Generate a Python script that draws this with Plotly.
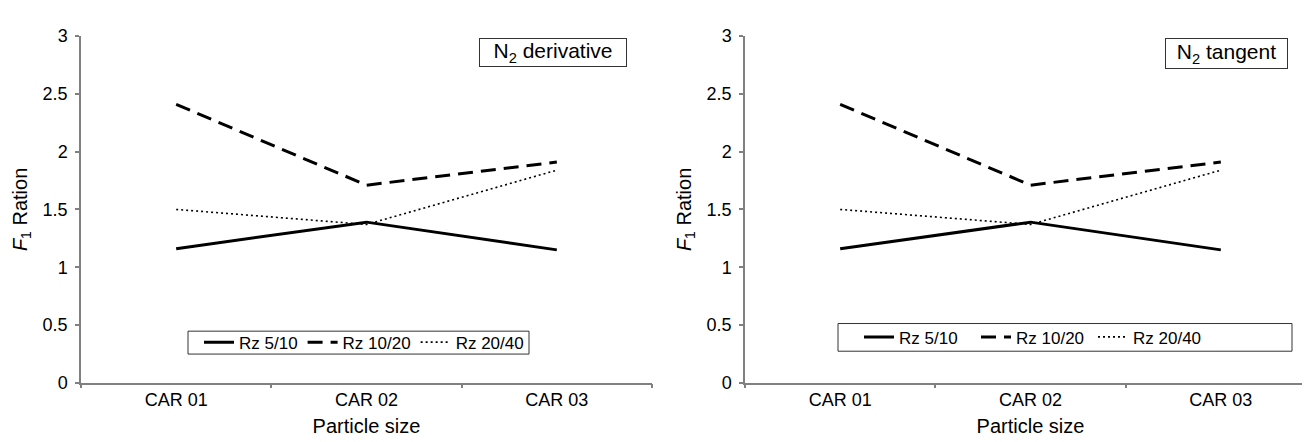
import plotly.graph_objects as go

categories = ["CAR 01", "CAR 02", "CAR 03"]
rz_5_10 = [1.16, 1.39, 1.15]
rz_10_20 = [2.41, 1.71, 1.91]
rz_20_40 = [1.50, 1.37, 1.84]
series_names = ["Rz 5/10", "Rz 10/20", "Rz 20/40"]
panel_labels = ["N<sub>2</sub> derivative", "N<sub>2</sub> tangent"]
y_ticks = [0, 0.5, 1, 1.5, 2, 2.5, 3]
y_tick_text = ["0", "0.5", "1", "1.5", "2", "2.5", "3"]

FONT = "Liberation Sans, Arial, sans-serif"
W, H = 1310, 442
AX = "#808080"

styles = [dict(width=3, dash="solid"), dict(width=3, dash="15px,8px"), dict(width=1.6, dash="2px,3px")]
data = [rz_5_10, rz_10_20, rz_20_40]


def fx(v):
    return v / W


def fy(v):
    return (H - v) / H


fig = go.Figure()
for p in range(2):
    xa = "x" if p == 0 else "x2"
    ya = "y" if p == 0 else "y2"
    leg = "legend" if p == 0 else "legend2"
    for name, vals, st in zip(series_names, data, styles):
        fig.add_trace(go.Scatter(
            x=categories, y=vals, mode="lines", name=name,
            line=dict(color="black", **st),
            xaxis=xa, yaxis=ya, legend=leg, showlegend=True,
        ))

ydom = [fy(382), fy(19)]
axis_common = dict(showgrid=False, zeroline=False, showline=True, linecolor=AX,
                   linewidth=1.5, ticks="outside", ticklen=4, tickcolor=AX, tickwidth=1.5,
                   tickfont=dict(family=FONT, size=18, color="black"))
xt = dict(text="Particle size", font=dict(family=FONT, size=20, color="black"), standoff=10)
yt = dict(text="<i>F</i><sub>1</sub> Ration", font=dict(family=FONT, size=20, color="black"), standoff=10)

leg_common = dict(orientation="h", xanchor="left", yanchor="middle", borderwidth=0,
                  bgcolor="rgba(0,0,0,0)", font=dict(family=FONT, size=17, color="black"),
                  itemwidth=30, tracegroupgap=0)

fig.update_layout(
    width=W, height=H, margin=dict(l=0, r=0, t=0, b=0),
    paper_bgcolor="white", plot_bgcolor="white",
    font=dict(family=FONT, color="black"),
    xaxis=dict(domain=[fx(73), fx(644)], anchor="y", range=[-0.5, 2.5], type="category",
               tickson="boundaries", title=xt, **axis_common),
    yaxis=dict(domain=ydom, anchor="x", range=[0, 3], tickvals=y_ticks, ticktext=y_tick_text,
               title=yt, ticklabelstandoff=4, **axis_common),
    xaxis2=dict(domain=[fx(737), fx(1308)], anchor="y2", range=[-0.5, 2.5], type="category",
                tickson="boundaries", title=xt, **axis_common),
    yaxis2=dict(domain=ydom, anchor="x2", range=[0, 3], tickvals=y_ticks, ticktext=y_tick_text,
                title=yt, ticklabelstandoff=4, **axis_common),
    legend=dict(x=fx(191), y=fy(340), **leg_common),
    legend2=dict(x=fx(851), y=fy(334.5), entrywidth=72, **leg_common),
)

# legend frames
for (x0, y0, x1, y1) in [(180, 328, 521, 352), (830, 320, 1284, 349)]:
    fig.add_shape(type="rect", xref="paper", yref="paper",
                  x0=fx(x0), x1=fx(x1), y0=fy(y1), y1=fy(y0),
                  line=dict(color="#333333", width=1), fillcolor="rgba(0,0,0,0)", layer="above")

boxes = [(619, 146, 27), (1280, 121, 29)]
for lbl, (right_edge, bw_, bh_) in zip(panel_labels, boxes):
    fig.add_annotation(text=lbl, xref="paper", yref="paper", x=fx(right_edge), y=fy(21),
                       xanchor="right", yanchor="top", showarrow=False,
                       width=bw_, height=bh_, align="center", valign="middle",
                       font=dict(family=FONT, size=21, color="black"),
                       bordercolor="#333333", borderwidth=1, borderpad=0, bgcolor="white")

fig.write_html("out.html")
